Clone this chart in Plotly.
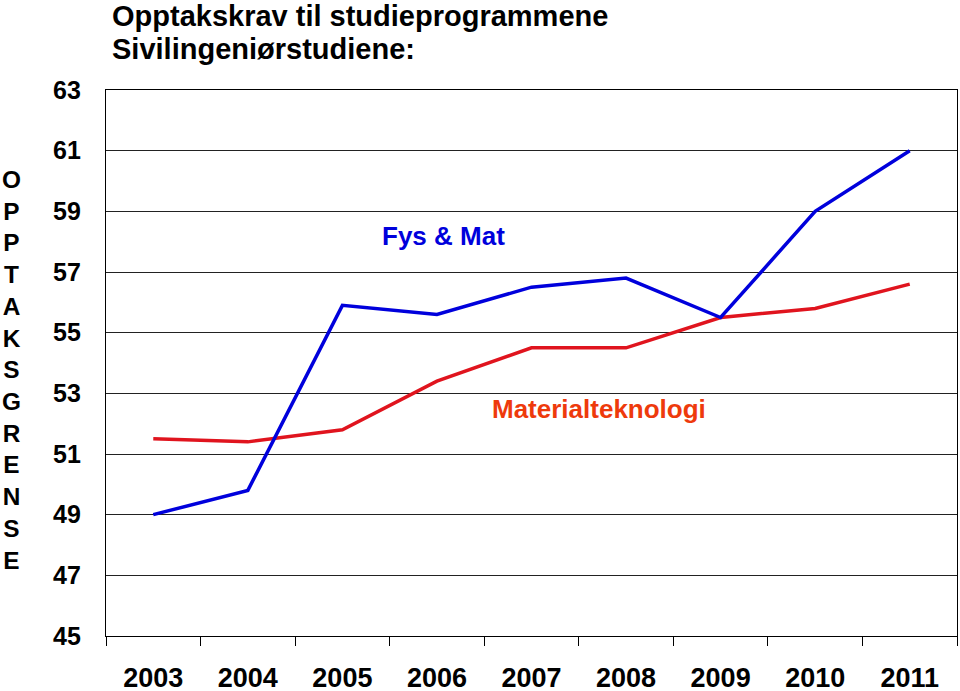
import plotly.graph_objects as go

years = ["2003", "2004", "2005", "2006", "2007", "2008", "2009", "2010", "2011"]
fys_mat = [49.0, 49.8, 55.9, 55.6, 56.5, 56.8, 55.5, 59.0, 61.0]
materialteknologi = [51.5, 51.4, 51.8, 53.4, 54.5, 54.5, 55.5, 55.8, 56.6]
y_ticks = [45, 47, 49, 51, 53, 55, 57, 59, 61, 63]

FONT = "Liberation Sans, Arial, sans-serif"
BLUE = "#0000DC"
RED = "#E0141E"

fig = go.Figure()
fig.add_trace(go.Scatter(x=years, y=materialteknologi, mode="lines",
                         line=dict(color=RED, width=3.5), name="Materialteknologi"))
fig.add_trace(go.Scatter(x=years, y=fys_mat, mode="lines",
                         line=dict(color=BLUE, width=3.5), name="Fys & Mat"))

fig.update_layout(
    width=960, height=691,
    margin=dict(l=106, r=3, t=90, b=55, autoexpand=False),
    paper_bgcolor="white", plot_bgcolor="white",
    showlegend=False,
    font=dict(family=FONT, color="black"),
)
fig.update_xaxes(
    type="category", range=[-0.5, 8.5], automargin=False,
    showline=True, linecolor="black", linewidth=1.2, mirror=True,
    showgrid=False, ticks="outside", tickson="boundaries", ticklen=9,
    tickcolor="black", tickwidth=1.2,
    tickfont=dict(family=FONT, size=27, color="black", weight="bold"),
    ticklabelstandoff=17,
)
fig.update_yaxes(
    range=[45, 63], tickvals=y_ticks, ticktext=[str(v) for v in y_ticks],
    automargin=False,
    showline=True, linecolor="black", linewidth=1.2, mirror=True,
    showgrid=True, gridcolor="#222222", gridwidth=1.2,
    ticks="", zeroline=False,
    tickfont=dict(family=FONT, size=25, color="black", weight="bold"),
    ticklabelstandoff=19,
)

annotations = [
    dict(text="Opptakskrav til studieprogrammene", x=(110 - 106) / 851, y=(636 + 2) / 546,
         xanchor="left", yanchor="top", font=dict(size=29, weight="bold")),
    dict(text="Sivilingeniørstudiene:", x=(110 - 106) / 851, y=(636 - 31) / 546,
         xanchor="left", yanchor="top", font=dict(size=29, weight="bold")),
    dict(text="<br>".join(list("OPPTAKSGRENSE")), x=(11 - 106) / 851, y=(636 - 370) / 546,
         xanchor="center", yanchor="middle", font=dict(size=24.4, weight="bold")),
    dict(text="Fys & Mat", x=(443 - 106) / 851, y=(636 - 236) / 546,
         xanchor="center", yanchor="middle", font=dict(size=26, weight="bold", color=BLUE)),
    dict(text="Materialteknologi", x=(599 - 106) / 851, y=(636 - 409) / 546,
         xanchor="center", yanchor="middle", font=dict(size=26, weight="bold", color="#EE3A0C")),
]
for a in annotations:
    a.update(xref="paper", yref="paper", showarrow=False)
    a["font"].setdefault("family", FONT)
    a["font"].setdefault("color", "black")
fig.update_layout(annotations=annotations)

fig.write_html("out.html", config={"displayModeBar": False},
               post_script="document.body.style.margin='0';")
